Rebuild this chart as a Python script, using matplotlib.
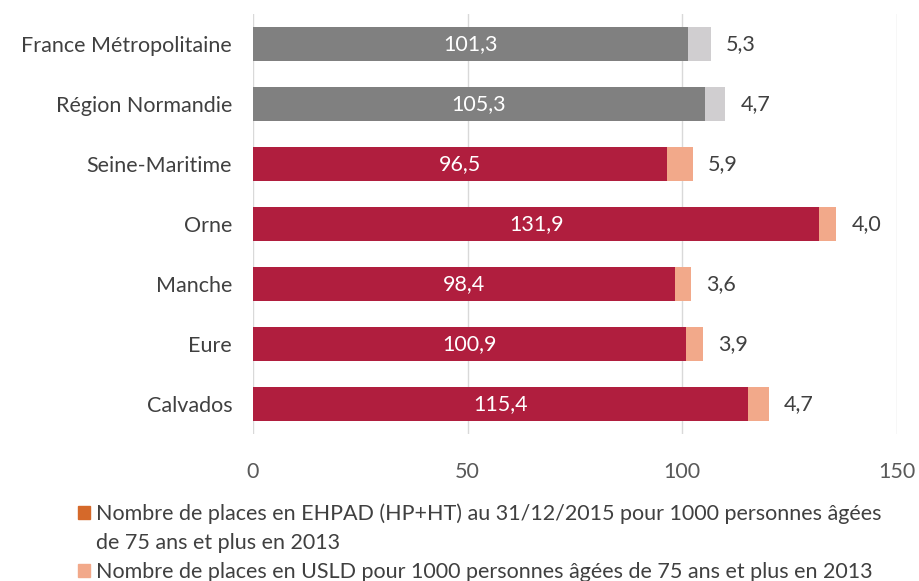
import matplotlib.pyplot as plt
from matplotlib.patches import Patch

plt.rcParams['font.family'] = ['Lato', 'DejaVu Sans']

# Data (from bottom to top)
territoires = ["Calvados", "Eure", "Manche", "Orne", "Seine-Maritime",
               "Région Normandie", "France Métropolitaine"]
ehpad = [115.4, 100.9, 98.4, 131.9, 96.5, 105.3, 101.3]
usld = [4.7, 3.9, 3.6, 4.0, 5.9, 4.7, 5.3]
reference = [False, False, False, False, False, True, True]

legend_ehpad = ["Nombre de places en EHPAD (HP+HT) au 31/12/2015 pour 1000 personnes âgées",
                "de 75 ans et plus en 2013"]
legend_usld = "Nombre de places en USLD pour 1000 personnes âgées de 75 ans et plus en 2013"

fmt = lambda v: f"{v:.1f}".replace(".", ",")

col_main = ["#808080" if r else "#B01E3E" for r in reference]
col_usld = ["#D0CED0" if r else "#F2A98A" for r in reference]

fs = 15.5

fig = plt.figure(figsize=(9.2, 5.81), dpi=100)
ax = fig.add_axes([0.275, 0.253, 0.7, 0.723])

y = range(len(territoires))
ax.barh(y, ehpad, height=0.57, color=col_main, zorder=2)
ax.barh(y, usld, left=ehpad, height=0.57, color=col_usld, zorder=2)

for i in y:
    ax.text(ehpad[i] / 2, i, fmt(ehpad[i]), ha="center", va="center",
            color="white", fontsize=fs)
    ax.annotate(fmt(usld[i]), (ehpad[i] + usld[i], i), xytext=(11, 0),
                textcoords="offset points", ha="left", va="center",
                color="#404040", fontsize=fs)

ax.set_xlim(0, 150)
ax.set_ylim(-0.5, len(territoires) - 0.5)
ax.set_xticks([0, 50, 100, 150])
ax.set_yticks(list(y))
ax.set_yticklabels(territoires, fontsize=fs, color="#404040")
ax.tick_params(axis="x", labelsize=fs, labelcolor="#595959", length=0, pad=20)
ax.tick_params(axis="y", length=0, pad=15)
ax.grid(axis="x", color="#D9D9D9", linewidth=1, zorder=0)
for s in ax.spines.values():
    s.set_visible(False)

# legend: the wrapped second line of the first entry gets an empty handle
handles = [Patch(color="#D5692A"), Patch(color="none"), Patch(color="#F2A98A")]
labels = legend_ehpad + [legend_usld]
fig.legend(handles, labels, loc="upper left",
           bbox_to_anchor=(0.085, 0.134), frameon=False, fontsize=fs,
           labelcolor="#404040", handlelength=0.55, handleheight=0.55,
           handletextpad=0.3, labelspacing=0.42, borderpad=0, borderaxespad=0)

fig.savefig("out.png", dpi=100)
